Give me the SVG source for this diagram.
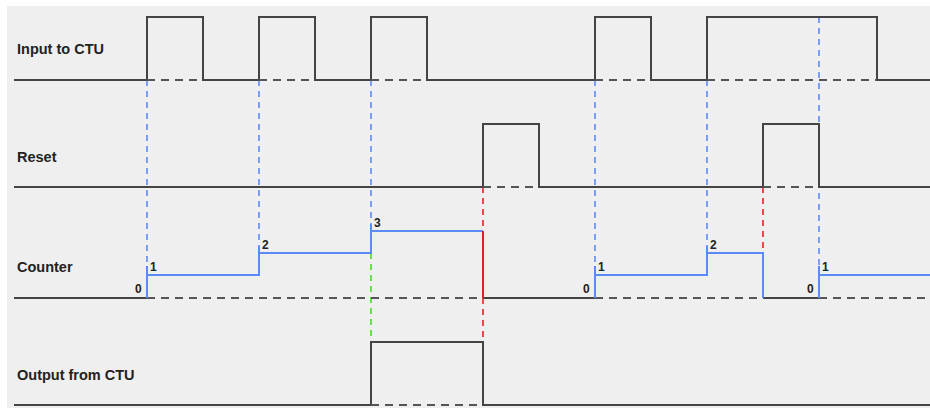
<svg xmlns="http://www.w3.org/2000/svg" width="930" height="411" viewBox="0 0 930 411">
<style>
.lbl{font-family:"Liberation Sans",Arial,sans-serif;font-weight:bold;font-size:14.5px;fill:#222}
.num{font-family:"Liberation Sans",Arial,sans-serif;font-weight:bold;font-size:12px;fill:#222}
.sig{fill:none;stroke:#444;stroke-width:2}
.dsh{fill:none;stroke:#555;stroke-width:2.2;stroke-dasharray:8,6}
.cnt{fill:none;stroke:#5b8cf5;stroke-width:2}
.bd{fill:none;stroke:#5b8cf5;stroke-width:1.6;stroke-dasharray:6,5}
.rd{fill:none;stroke:#e62020;stroke-width:1.6;stroke-dasharray:6,5}
.gd{fill:none;stroke:#44dd22;stroke-width:1.6;stroke-dasharray:6,5}
</style>
<rect x="7" y="6" width="923" height="402" fill="#efefef"/>
<g id="connectors">
<path class="bd" d="M147 80V268M259 80V246M371 80V224M595 80V268M707 80V246M819 17V268"/>
<path class="rd" d="M483 187V231M483 298V342M763 187V253"/>
<path class="gd" d="M371 253V342"/>
</g>
<g id="input">
<text class="lbl" x="17" y="54">Input to CTU</text>
<path class="sig" d="M14 80H147V17H203V80H259V17H315V80H371V17H427V80H595V17H651V80H707V17H877V80H930"/>
<path class="dsh" d="M147 80H203M259 80H315M371 80H427M595 80H651M707 80H877"/>
</g>
<g id="reset">
<text class="lbl" x="17" y="162">Reset</text>
<path class="sig" d="M14 187H483V124H539V187H763V124H819V187H930"/>
<path class="dsh" d="M483 187H539M763 187H819"/>
</g>
<g id="counter">
<text class="lbl" x="17" y="272">Counter</text>
<path class="sig" d="M14 298H147M483 298H595M763 298H819"/>
<path class="dsh" d="M147 298H483M595 298H763M819 298H930"/>
<path class="cnt" d="M147 298V266M147 275H259V246M259 253H371V224M371 231H483"/>
<path d="M483 231V298" fill="none" stroke="#e62020" stroke-width="2"/>
<path class="cnt" d="M595 298V266M595 275H707V246M707 253H763V298M819 298V266M819 275H930"/>
<text class="num" x="135" y="293">0</text>
<text class="num" x="150" y="271">1</text>
<text class="num" x="262" y="249">2</text>
<text class="num" x="374" y="227">3</text>
<text class="num" x="583" y="293">0</text>
<text class="num" x="598" y="271">1</text>
<text class="num" x="710" y="249">2</text>
<text class="num" x="807" y="293">0</text>
<text class="num" x="822" y="271">1</text>
</g>
<g id="output">
<text class="lbl" x="17" y="380">Output from CTU</text>
<path class="sig" d="M14 405H371V342H483V405H930"/>
<path class="dsh" d="M371 405H483"/>
</g>
</svg>
